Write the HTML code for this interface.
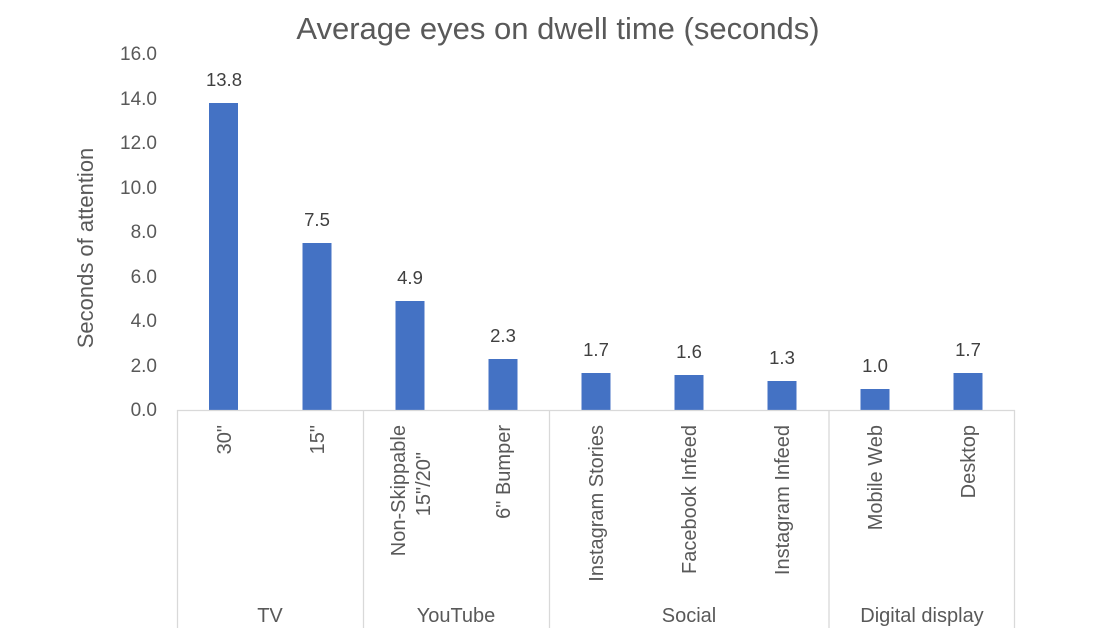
<!DOCTYPE html>
<html><head><meta charset="utf-8"><style>body{margin:0;background:#fff}svg{display:block}</style></head><body>
<svg width="1113" height="628" xmlns="http://www.w3.org/2000/svg" font-family="Liberation Sans, sans-serif" fill="#595959">
<text x="558" y="39" font-size="31" text-anchor="middle">Average eyes on dwell time (seconds)</text>
<text transform="translate(93,248) rotate(-90)" font-size="22" text-anchor="middle">Seconds of attention</text>
<g font-size="19" text-anchor="end">
<text x="157" y="60">16.0</text><text x="157" y="105">14.0</text><text x="157" y="149">12.0</text><text x="157" y="194">10.0</text><text x="157" y="238">8.0</text><text x="157" y="283">6.0</text><text x="157" y="327">4.0</text><text x="157" y="372">2.0</text><text x="157" y="416">0.0</text>
</g>
<g fill="#4472C4">
<rect x="209" y="103" width="29" height="307"/>
<rect x="302.5" y="243" width="29" height="167"/>
<rect x="395.5" y="301" width="29" height="109"/>
<rect x="488.5" y="359" width="29" height="51"/>
<rect x="581.5" y="373" width="29" height="37"/>
<rect x="674.5" y="375" width="29" height="35"/>
<rect x="767.5" y="381" width="29" height="29"/>
<rect x="860.5" y="389" width="29" height="21"/>
<rect x="953.5" y="373" width="29" height="37"/>
</g>
<g font-size="18.5" text-anchor="middle" fill="#404040">
<text x="224" y="86">13.8</text><text x="317" y="226">7.5</text><text x="410" y="284">4.9</text><text x="503" y="342">2.3</text><text x="596" y="356">1.7</text><text x="689" y="358">1.6</text><text x="782" y="364">1.3</text><text x="875" y="372">1.0</text><text x="968" y="356">1.7</text>
</g>
<g stroke="#d9d9d9" stroke-width="1.3">
<line x1="177" y1="410.5" x2="1015" y2="410.5"/>
<line x1="177.5" y1="410" x2="177.5" y2="628"/>
<line x1="363.5" y1="410" x2="363.5" y2="628"/>
<line x1="549.5" y1="410" x2="549.5" y2="628"/>
<line x1="829" y1="410" x2="829" y2="628"/>
<line x1="1014.5" y1="410" x2="1014.5" y2="628"/>
</g>
<g font-size="20" text-anchor="end">
<text transform="translate(231,425) rotate(-90)">30"</text>
<text transform="translate(324,425) rotate(-90)">15"</text>
<text transform="translate(405,425) rotate(-90)">Non-Skippable</text>
<text transform="translate(430,452) rotate(-90)">15"/20"</text>
<text transform="translate(510,425) rotate(-90)">6" Bumper</text>
<text transform="translate(603,425) rotate(-90)">Instagram Stories</text>
<text transform="translate(696,425) rotate(-90)">Facebook Infeed</text>
<text transform="translate(789,425) rotate(-90)">Instagram Infeed</text>
<text transform="translate(882,425) rotate(-90)">Mobile Web</text>
<text transform="translate(975,425) rotate(-90)">Desktop</text>
</g>
<g font-size="20" text-anchor="middle">
<text x="270" y="622">TV</text><text x="456" y="622">YouTube</text><text x="689" y="622">Social</text><text x="922" y="622">Digital display</text>
</g>
</svg>
</body></html>
